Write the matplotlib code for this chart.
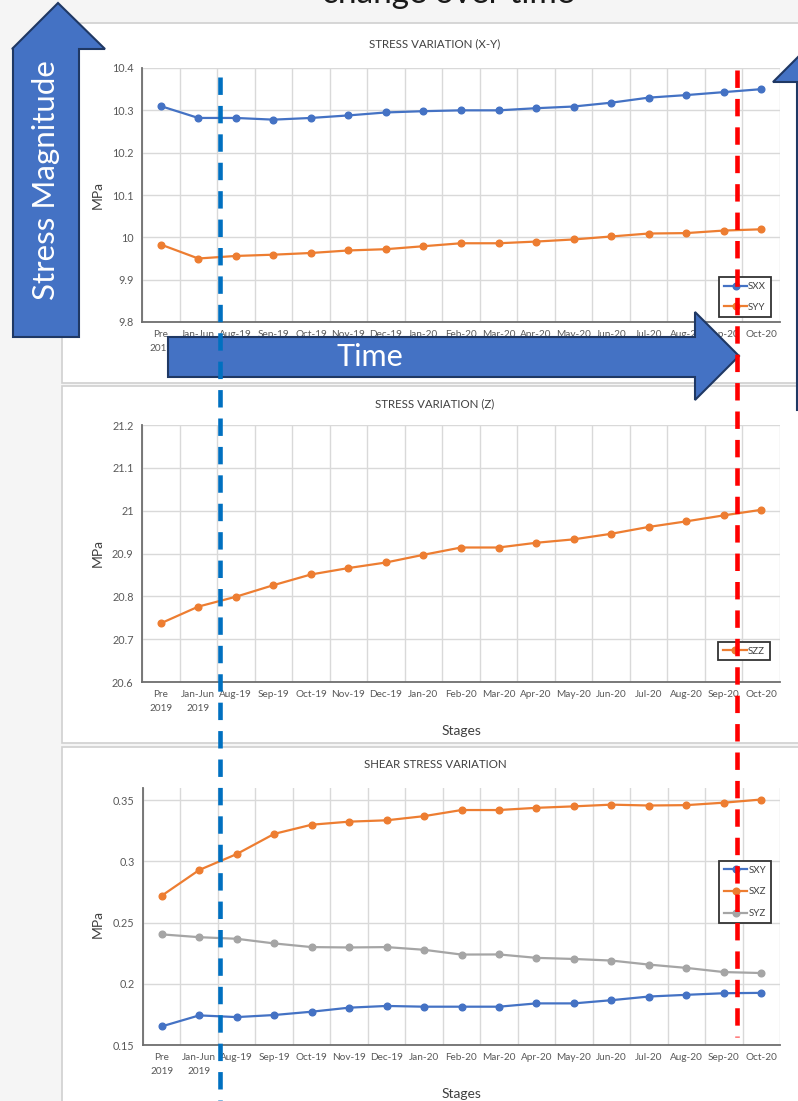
import matplotlib.pyplot as plt
from matplotlib.patches import Polygon, Rectangle

plt.rcParams['font.family'] = ['Lato', 'DejaVu Sans']

W, H = 798, 1101

stages = ["Pre\n2019", "Jan-Jun\n2019", "Aug-19", "Sep-19", "Oct-19", "Nov-19", "Dec-19",
          "Jan-20", "Feb-20", "Mar-20", "Apr-20", "May-20", "Jun-20", "Jul-20",
          "Aug-20", "Sep-20", "Oct-20"]

sxx = [10.310, 10.282, 10.282, 10.278, 10.282, 10.288, 10.295, 10.298, 10.300,
       10.300, 10.305, 10.309, 10.318, 10.330, 10.336, 10.343, 10.350]
syy = [9.983, 9.950, 9.956, 9.959, 9.963, 9.969, 9.972, 9.979, 9.986,
       9.986, 9.990, 9.995, 10.002, 10.009, 10.010, 10.016, 10.019]
szz = [20.737, 20.776, 20.799, 20.826, 20.851, 20.866, 20.879, 20.897, 20.914,
       20.914, 20.925, 20.933, 20.946, 20.962, 20.975, 20.989, 21.002]
sxy = [0.1652, 0.1742, 0.1728, 0.1745, 0.1772, 0.1805, 0.1819, 0.1813, 0.1813,
       0.1813, 0.1840, 0.1840, 0.1866, 0.1896, 0.1910, 0.1923, 0.1926]
sxz = [0.272, 0.293, 0.306, 0.3225, 0.330, 0.3325, 0.3336, 0.337, 0.342,
       0.342, 0.3438, 0.345, 0.3464, 0.3457, 0.346, 0.348, 0.3506]
syz = [0.2404, 0.2381, 0.2368, 0.233, 0.230, 0.2297, 0.230, 0.2278, 0.2239,
       0.224, 0.2212, 0.2203, 0.219, 0.2157, 0.213, 0.2096, 0.2088]

BLUE = '#4472C4'
ORANGE = '#ED7D31'
GREY = '#A5A5A5'


def px_rect(x0, y0, x1, y1):
    return [x0 / W, 1 - y1 / H, (x1 - x0) / W, (y1 - y0) / H]


fig = plt.figure(figsize=(W / 100, H / 100), dpi=100)
fig.patch.set_facecolor('#F5F5F5')

# background with the three chart panels
bg = fig.add_axes([0, 0, 1, 1], zorder=0)
bg.set_xlim(0, W)
bg.set_ylim(H, 0)
bg.axis('off')
for y0, y1 in [(23, 383), (386, 743), (747, 1110)]:
    bg.add_patch(Rectangle((62, y0), 760, y1 - y0, facecolor='white',
                           edgecolor='#D0D0D0', lw=1.2))


def make_chart(rect, series, ylim, yticks, ylabels, title, title_y, mpa_y, stages_y, legend_c, lspace):
    ax = fig.add_axes(px_rect(*rect), zorder=1)
    x = list(range(len(stages)))
    for name, vals, col in series:
        ax.plot(x, vals, color=col, lw=1.6, marker='o', ms=4.8, label=name)
    ax.set_xlim(-0.5, len(stages) - 0.5)
    ax.set_ylim(*ylim)
    ax.set_yticks(yticks)
    ax.set_yticklabels(ylabels, fontsize=7.8, color='#595959')
    ax.set_xticks(x)
    ax.set_xticklabels(stages, fontsize=7.2, color='#595959', linespacing=1.6, va='top')
    ax.set_xticks([i + 0.5 for i in range(-1, len(stages))], minor=True)
    ax.tick_params(axis='both', which='both', length=0, pad=6)
    ax.grid(axis='y', which='major', color='#D9D9D9', lw=1)
    ax.grid(axis='x', which='minor', color='#D9D9D9', lw=1)
    ax.set_axisbelow(True)
    for s in ['top', 'right']:
        ax.spines[s].set_visible(False)
    for s in ['left', 'bottom']:
        ax.spines[s].set_color('#6E6E6E')
        ax.spines[s].set_linewidth(1.3)
    leg = ax.legend(loc='center', bbox_to_anchor=(legend_c[0] / W, 1 - legend_c[1] / H),
                    bbox_transform=fig.transFigure, fontsize=7, fancybox=False,
                    framealpha=1, edgecolor='#333333', handlelength=2.4,
                    handletextpad=0.1, labelspacing=lspace, borderpad=0.5,
                    borderaxespad=0)
    leg.get_frame().set_linewidth(1.3)
    for t in leg.get_texts():
        t.set_color('#404040')
    fig.text(435 / W, 1 - title_y / H, title, fontsize=8.3, color='#404040',
             ha='center', va='center')
    fig.text(98 / W, 1 - mpa_y / H, 'MPa', fontsize=10, color='#404040',
             rotation=90, ha='center', va='center')
    fig.text(461 / W, 1 - stages_y / H, 'Stages', fontsize=10, color='#404040',
             ha='center', va='center')
    return ax


make_chart((142, 68, 780, 322), [('SXX', sxx, BLUE), ('SYY', syy, ORANGE)],
           (9.8, 10.4), [9.8, 9.9, 10.0, 10.1, 10.2, 10.3, 10.4],
           ['9.8', '9.9', '10', '10.1', '10.2', '10.3', '10.4'],
           'STRESS VARIATION (X-Y)', 44, 195, 372, (745, 297), 1.2)

make_chart((142, 425, 780, 682), [('SZZ', szz, ORANGE)],
           (20.6, 21.2), [20.6, 20.7, 20.8, 20.9, 21.0, 21.1, 21.2],
           ['20.6', '20.7', '20.8', '20.9', '21', '21.1', '21.2'],
           'STRESS VARIATION (Z)', 404, 553, 731, (744, 651), 0.5)

make_chart((143, 788, 780, 1045),
           [('SXY', sxy, BLUE), ('SXZ', sxz, ORANGE), ('SYZ', syz, GREY)],
           (0.15, 0.36), [0.15, 0.2, 0.25, 0.3, 0.35],
           ['0.15', '0.2', '0.25', '0.3', '0.35'],
           'SHEAR STRESS VARIATION', 765, 924, 1094, (745, 892), 1.3)

# overlay: arrows, dashed markers, slide heading
ov = fig.add_axes([0, 0, 1, 1], zorder=5)
ov.set_xlim(0, W)
ov.set_ylim(H, 0)
ov.axis('off')
ov.patch.set_alpha(0)

ov.text(448, 3, 'change over time', fontsize=24, color='#1A1A1A', ha='center',
        va='baseline')

ov.plot([220, 220], [77, 1101], color='#0070C0', lw=3.3, dashes=(3.8, 2.4))
ov.plot([737, 737], [70, 1037], color='#FF0000', lw=3.3, dashes=(3.8, 2.4))

arrow_kw = dict(facecolor=BLUE, edgecolor='#1F3864', lw=1.5, closed=True)
ov.add_patch(Polygon([(13, 337), (79, 337), (79, 49), (105, 49), (58, 3), (12, 49), (13, 49)],
                     **arrow_kw))
ov.text(46, 180, 'Stress Magnitude', fontsize=22.5, color='white', rotation=90,
        ha='center', va='center')

ov.add_patch(Polygon([(168, 337), (695, 337), (695, 312), (739, 356), (695, 400),
                      (695, 377), (168, 377)], **arrow_kw))
ov.text(370, 357, 'Time', fontsize=22, color='white', ha='center', va='center')

ov.add_patch(Polygon([(797, 410), (797, 82), (773, 82), (820, 35), (867, 82),
                      (843, 82), (843, 410)], **arrow_kw))

fig.savefig('out.png', dpi=100)
